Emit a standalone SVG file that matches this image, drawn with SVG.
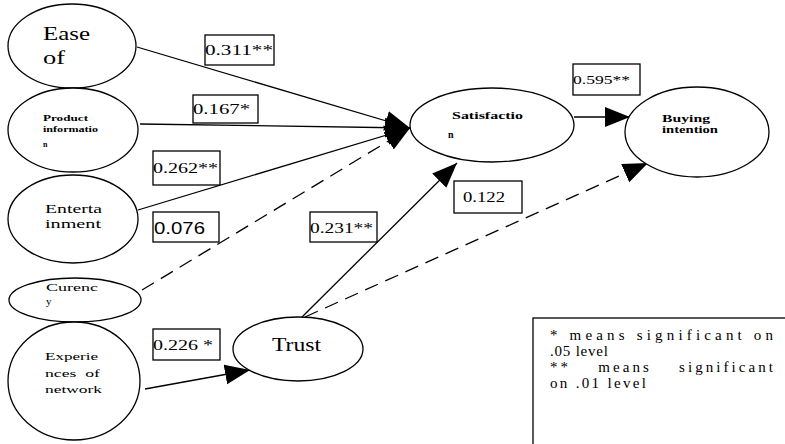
<svg xmlns="http://www.w3.org/2000/svg" width="785" height="444" viewBox="0 0 785 444">
<style>
.node{fill:#fff;stroke:#000;stroke-width:1.3}
.lbl{fill:#fff;stroke:#000;stroke-width:1.3}
.c{stroke:#000;stroke-width:1.3;fill:none;marker-end:url(#ah)}
.d{stroke-dasharray:14 8}
text{fill:#000}
</style>
<defs>
<marker id="ah" markerUnits="userSpaceOnUse" markerWidth="26" markerHeight="22" refX="25" refY="11" orient="auto">
<path d="M0,1 L25,11 L0,21 z" fill="#000"/>
</marker>
</defs>
<rect width="785" height="444" fill="#fff"/>
<g id="connectors">
<line class="c" x1="137" y1="47" x2="410" y2="128"/>
<line class="c" x1="140" y1="124" x2="410" y2="128"/>
<line class="c" x1="138" y1="210" x2="410" y2="128"/>
<line class="c d" x1="142" y1="290" x2="410" y2="128"/>
<line class="c" x1="145" y1="389" x2="250" y2="370"/>
<line class="c" x1="302" y1="317" x2="457" y2="163"/>
<line class="c d" x1="305" y1="317" x2="648" y2="163"/>
<line class="c" x1="574" y1="117" x2="630" y2="117"/>
</g>
<g font-family="'Liberation Serif','DejaVu Serif','Times New Roman',serif">
<g id="ease">
<ellipse class="node" cx="72" cy="46" rx="64" ry="42"/>
<text x="43" y="40" font-size="19" textLength="47" lengthAdjust="spacingAndGlyphs">Ease</text>
<text x="43" y="64" font-size="19" textLength="22" lengthAdjust="spacingAndGlyphs">of</text>
</g>
<g id="product">
<ellipse class="node" cx="73" cy="130" rx="65" ry="42"/>
<text x="43" y="121" font-size="8" font-weight="bold" textLength="45" lengthAdjust="spacingAndGlyphs">Product</text>
<text x="43" y="132" font-size="8" font-weight="bold" textLength="55" lengthAdjust="spacingAndGlyphs">informatio</text>
<text x="43" y="147" font-size="8" font-weight="bold">n</text>
</g>
<g id="entertainment">
<ellipse class="node" cx="73" cy="219" rx="65" ry="44"/>
<text x="45" y="213" font-size="13" textLength="57" lengthAdjust="spacingAndGlyphs">Enterta</text>
<text x="45" y="228" font-size="13" textLength="56" lengthAdjust="spacingAndGlyphs">inment</text>
</g>
<g id="currency">
<ellipse class="node" cx="75" cy="300" rx="66" ry="22"/>
<text x="46" y="291" font-size="11" textLength="52" lengthAdjust="spacingAndGlyphs">Curenc</text>
<text x="46" y="305" font-size="11">y</text>
</g>
<g id="experiences">
<ellipse class="node" cx="74" cy="381" rx="66" ry="59"/>
<text x="45" y="360" font-size="11" textLength="53" lengthAdjust="spacingAndGlyphs">Experie</text>
<text x="45" y="377" font-size="11" xml:space="preserve" textLength="55" lengthAdjust="spacingAndGlyphs">nces  of</text>
<text x="45" y="393" font-size="11" textLength="57" lengthAdjust="spacingAndGlyphs">network</text>
</g>
<g id="trust">
<ellipse class="node" cx="298" cy="349" rx="65" ry="32"/>
<text x="272" y="351" font-size="18" textLength="49" lengthAdjust="spacingAndGlyphs">Trust</text>
</g>
<g id="satisfaction">
<ellipse class="node" cx="492" cy="125" rx="82" ry="37"/>
<text x="452" y="119" font-size="10" font-weight="bold" textLength="71" lengthAdjust="spacingAndGlyphs">Satisfactio</text>
<text x="448" y="138" font-size="10" font-weight="bold">n</text>
</g>
<g id="buying">
<ellipse class="node" cx="697" cy="132" rx="72" ry="45"/>
<text x="662" y="122" font-size="10" font-weight="bold" textLength="48" lengthAdjust="spacingAndGlyphs">Buying</text>
<text x="662" y="133" font-size="10" font-weight="bold" textLength="56" lengthAdjust="spacingAndGlyphs">intention</text>
</g>
<g id="labels">
<rect class="lbl" x="205" y="35" width="69" height="30"/>
<text x="205" y="55" font-size="14" textLength="68" lengthAdjust="spacingAndGlyphs">0.311**</text>
<rect class="lbl" x="193" y="95" width="65" height="28"/>
<text x="193" y="114" font-size="14" textLength="57" lengthAdjust="spacingAndGlyphs">0.167*</text>
<rect class="lbl" x="153" y="151" width="67" height="34"/>
<text x="153" y="173" font-size="14" textLength="65" lengthAdjust="spacingAndGlyphs">0.262**</text>
<rect class="lbl" x="153" y="212" width="66" height="30"/>
<text x="154" y="234" font-family="'Liberation Sans',Arial,sans-serif" font-size="17" textLength="51" lengthAdjust="spacingAndGlyphs">0.076</text>
<rect class="lbl" x="310" y="212" width="67" height="30"/>
<text x="310" y="233" font-size="14" textLength="63" lengthAdjust="spacingAndGlyphs">0.231**</text>
<rect class="lbl" x="454" y="181" width="68" height="32"/>
<text x="463" y="202" font-size="14" textLength="42" lengthAdjust="spacingAndGlyphs">0.122</text>
<rect class="lbl" x="153" y="329" width="67" height="31"/>
<text x="153" y="350" font-size="14" textLength="60" lengthAdjust="spacingAndGlyphs" xml:space="preserve">0.226 *</text>
<rect class="lbl" x="573" y="64" width="67" height="31"/>
<text x="573" y="84" font-size="13" textLength="57" lengthAdjust="spacingAndGlyphs">0.595**</text>
</g>
<g id="legend">
<rect x="533" y="318" width="270" height="140" fill="#fff" stroke="#000" stroke-width="1.3"/>
<text x="550" y="340" font-size="15" xml:space="preserve" textLength="223" lengthAdjust="spacing">* means significant on</text>
<text x="550" y="356" font-size="15" textLength="58" lengthAdjust="spacing">.05 level</text>
<text x="550" y="372" font-size="15" xml:space="preserve" textLength="223" lengthAdjust="spacing">**    means    significant</text>
<text x="550" y="388" font-size="15" textLength="96" lengthAdjust="spacing">on .01 level</text>
</g>
</g>
</svg>
